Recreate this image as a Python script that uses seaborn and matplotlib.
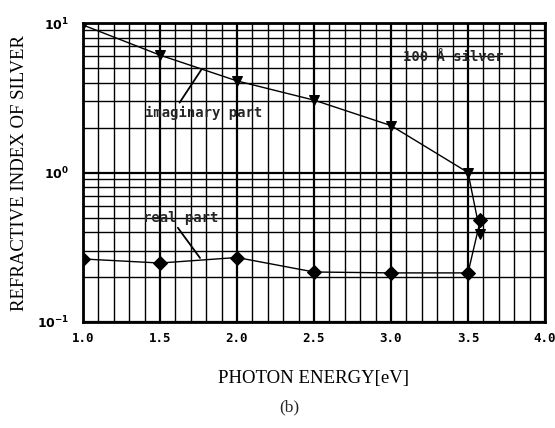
import numpy as np
import pandas as pd
import matplotlib
matplotlib.use("Agg")
import matplotlib.pyplot as plt
import seaborn as sns
from matplotlib.ticker import FixedLocator, LogLocator, NullFormatter, MultipleLocator

# ---- data ----
energy = [1.0, 1.5, 2.0, 2.5, 3.0, 3.5, 3.58]
imag_part = [9.7, 6.1, 4.1, 3.05, 2.06, 1.0, 0.39]
real_part = [0.264, 0.248, 0.27, 0.216, 0.213, 0.213, 0.48]
x_ticks = [1.0, 1.5, 2.0, 2.5, 3.0, 3.5, 4.0]
y_ticks = [0.1, 1.0, 10.0]
y_tick_labels = [r"$\mathbf{10^{-1}}$", r"$\mathbf{10^{0}}$", r"$\mathbf{10^{1}}$"]

df = pd.DataFrame({
    "energy": energy * 2,
    "n": imag_part + real_part,
    "part": ["imaginary"] * len(energy) + ["real"] * len(energy),
})

sns.set_theme(style="white")
plt.rcParams["font.family"] = ["DejaVu Sans"]

fig = plt.figure(figsize=(5.55, 4.28), dpi=100)
ax = fig.add_axes([0.1495, 0.2477, 0.8325, 0.6985])

sns.lineplot(data=df, x="energy", y="n", hue="part", style="part",
             palette={"imaginary": "black", "real": "black"},
             markers={"imaginary": "v", "real": "D"},
             dashes=False, linewidth=1.0, markersize=7.5, markeredgecolor="black",
             legend=False, ax=ax, sort=False)

ax.set_yscale("log")
ax.set_xlim(1.0, 4.0)
ax.set_ylim(0.1, 10.0)

ax.xaxis.set_major_locator(FixedLocator(x_ticks))
ax.xaxis.set_minor_locator(MultipleLocator(0.1))
ax.set_xticklabels([f"{t:.1f}" for t in x_ticks], fontweight="bold", fontsize=9,
                   family="DejaVu Sans Mono")
ax.yaxis.set_major_locator(FixedLocator(y_ticks))
ax.set_yticklabels(y_tick_labels, fontsize=9)
ax.yaxis.set_minor_locator(LogLocator(base=10, subs=np.arange(2, 10)))
ax.yaxis.set_minor_formatter(NullFormatter())

ax.grid(True, which="major", color="black", linewidth=1.6)
ax.grid(True, which="minor", color="black", linewidth=1.0)
ax.tick_params(which="both", length=0, colors="black")
ax.tick_params(axis="x", pad=7)
ax.tick_params(axis="y", pad=10)
for s in ax.spines.values():
    s.set_color("black")
    s.set_linewidth(2.0)

ax.set_xlabel("PHOTON ENERGY[eV]", family="Liberation Serif", fontsize=13.5,
              color="black")
ax.xaxis.set_label_coords(0.5, -0.16)
ax.set_ylabel("REFRACTIVE INDEX OF SILVER", family="Liberation Serif", fontsize=13.5,
              color="black")
ax.yaxis.set_label_coords(-0.118, 0.5)
fig.text(0.522, 0.047, "(b)", family="Liberation Serif", fontsize=12.5,
         ha="center", va="center")

ax.annotate("imaginary part", xy=(1.77, 4.9), xytext=(1.40, 2.5),
            fontsize=10, fontweight="bold", family="DejaVu Sans Mono",
            ha="left", va="center",
            arrowprops=dict(arrowstyle="-", color="black", lw=1.3,
                            shrinkA=0, shrinkB=0, relpos=(0.28, 1.0)))
ax.annotate("real part", xy=(1.76, 0.268), xytext=(1.39, 0.50),
            fontsize=10, fontweight="bold", family="DejaVu Sans Mono",
            ha="left", va="center",
            arrowprops=dict(arrowstyle="-", color="black", lw=1.3,
                            shrinkA=0, shrinkB=0, relpos=(0.43, 0.0)))
ax.text(3.08, 5.9, "100 Å silver", fontsize=10, fontweight="bold",
        family="DejaVu Sans Mono", ha="left", va="center")

fig.savefig("out.png", dpi=100, facecolor="white")
